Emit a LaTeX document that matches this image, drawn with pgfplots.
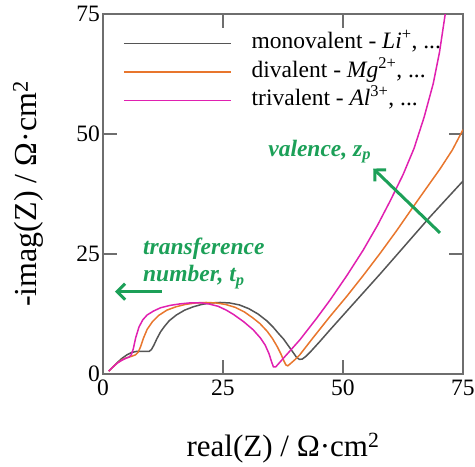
\documentclass[border=0pt]{standalone}
\usepackage{fontspec}
\setmainfont{Liberation Serif}
\usepackage{pgfplots}
\pgfplotsset{compat=1.18}
\usetikzlibrary{arrows.meta}
\definecolor{mono}{RGB}{85,85,85}
\definecolor{di}{RGB}{232,118,45}
\definecolor{tri}{RGB}{224,32,176}
\definecolor{grn}{RGB}{28,160,88}
\definecolor{axgray}{RGB}{110,110,110}
\newcommand{\myfs}{\rmfamily\fontsize{23.5}{28}\selectfont}
\begin{document}
\begin{tikzpicture}
\begin{axis}[
 scale only axis, width=360pt, height=360pt,
 xmin=0,xmax=75,ymin=0,ymax=75,
 xtick={0,25,50,75}, ytick={0,25,50,75},
 tick align=inside, tick pos=both, major tick length=14pt,
 axis line style={draw=axgray, line width=1.2pt},
 every tick/.style={draw=axgray, line width=1.2pt},
 tick label style={font=\myfs, inner sep=0pt},
 xticklabel style={anchor=north, yshift=-6pt},
 yticklabel style={anchor=east, xshift=-3pt},
 /pgf/number format/assume math mode=true,
 clip mode=individual,
 xlabel={real(Z) / Ω·cm\textsuperscript{2}},
 ylabel={-imag(Z) / Ω·cm\textsuperscript{2}},
 every axis x label/.style={at={(rel axis cs:0.5,-0.230556)}, anchor=base, font=\rmfamily\fontsize{31}{36}\selectfont},
 every axis y label/.style={at={(rel axis cs:-0.183333,0.5)}, anchor=base, rotate=90, font=\rmfamily\fontsize{32}{38}\selectfont},
 legend style={at={(rel axis cs:0.0556,0.9478)}, anchor=north west, draw=none, fill=none, inner sep=0pt, font=\myfs, row sep=7.5pt, nodes={inner sep=0pt, text height=16pt, text depth=5pt}},
 legend cell align=left,
 legend image code/.code={\draw[#1,line width=1.5pt] (0pt,0pt) -- (107pt,0pt); \path (127pt,0pt);},
]
\addplot[mono, line width=1.5pt] coordinates {
(1.2,0.6) (2,1.4) (3,2.4) (4,3.3) (5,4.0) (6,4.5) (7,4.7) (8.5,4.7) (9.6,4.7) (10.1,5.1) (10.6,6.0) (11.2,7.3) (12,8.8) (12.8,9.9) (13.8,11.1) (15.3,12.3) (17,13.3) (18.8,14.0) (20.6,14.5) (22.4,14.8) (24.4,14.9) (26.4,14.8) (28.4,14.4) (30.4,13.6) (32.3,12.5) (34.1,11.1) (35.5,9.7) (36.6,8.4) (37.6,7.3) (38.6,5.9) (39.6,4.5) (40.3,3.5) (40.9,3.05) (41.5,3.1) (42.3,3.7) (43.2,4.6) (45.2,6.8) (47.3,9.2) (50.7,13.0) (54.2,16.9) (57.7,20.8) (61.2,24.8) (64.6,28.7) (68.1,32.7) (71.5,36.4) (75,40.2)
};
\addlegendentry{monovalent - \textit{Li}\textsuperscript{+}, ...}
\addplot[di, line width=1.5pt] coordinates {
(1.2,0.6) (2,1.4) (3,2.3) (4,3.0) (5,3.4) (6,3.7) (6.8,4.0) (7.3,4.5) (7.8,5.6) (8.4,7.4) (9.2,9.3) (10.3,10.9) (11.6,12.2) (13.3,13.3) (15.2,14.0) (17.2,14.5) (19.3,14.8) (21.5,14.9) (23.5,14.8) (25.5,14.5) (27.5,13.9) (29.5,12.9) (31.2,11.7) (32.7,10.5) (34.2,8.9) (35.3,7.4) (36.3,5.7) (37.1,4.1) (37.7,2.7) (38.1,1.9) (38.5,1.7) (39.1,2.2) (40,3.0) (41,4.0) (43.8,7.6) (47.3,12.0) (50.8,16.2) (54.2,20.5) (57.7,25.1) (61.2,29.9) (64.6,34.8) (67.5,38.9) (70.2,42.7) (72.8,46.7) (75,50.9)
};
\addlegendentry{divalent - \textit{Mg}\textsuperscript{2+}, ...}
\addplot[tri, line width=1.5pt] coordinates {
(1.2,0.6) (2,1.4) (3,2.3) (4,2.9) (4.8,3.3) (5.4,3.5) (5.9,4.0) (6.3,5.2) (6.8,7.5) (7.5,9.8) (8.3,11.3) (9.2,12.3) (10.5,13.1) (12,13.8) (14,14.3) (16,14.6) (18,14.8) (20.2,14.85) (22,14.6) (24,14.1) (25.7,13.3) (27.2,12.4) (29.3,10.9) (31.3,9.2) (32.8,7.5) (33.8,6.0) (34.6,4.2) (35.1,2.6) (35.5,1.5) (36.0,1.5) (36.8,2.4) (37.6,3.3) (39.3,5.2) (41,7.1) (44.5,11.6) (47.3,15.4) (50.8,20.5) (54.2,25.8) (57.2,31) (59.8,36) (62.5,41.5) (64.8,47) (66.9,53.5) (68.8,60.5) (70.1,67) (71.3,75) (71.8,79)
};
\addlegendentry{trivalent - \textit{Al}\textsuperscript{3+}, ...}
\node[anchor=base west, text=grn, font=\myfs\bfseries\itshape, inner sep=0pt] at (axis cs:8.33,24.8) {transference};
\node[anchor=base west, text=grn, font=\myfs\bfseries\itshape, inner sep=0pt] at (axis cs:8.33,19.23) {number, \textit{t}\textsubscript{p}};
\node[anchor=base west, text=grn, font=\myfs\bfseries\itshape, inner sep=0pt] at (axis cs:34.4,45.4) {valence, \textit{z}\textsubscript{p}};
\draw[grn, line width=3pt, -{Straight Barb[length=8pt, width=16pt]}] (axis cs:12.2,17.15) -- (axis cs:2.5,17.15);
\draw[grn, line width=3pt, -{Straight Barb[length=8pt, width=16pt]}] (axis cs:70.2,29.4) -- (axis cs:56.3,42.8);
\coordinate (bbsw) at (rel axis cs:-0.286111,-0.252778);
\coordinate (bbne) at (rel axis cs:1.033333,1.038889);
\end{axis}
\path (bbsw) rectangle (bbne);
\end{tikzpicture}
\end{document}
